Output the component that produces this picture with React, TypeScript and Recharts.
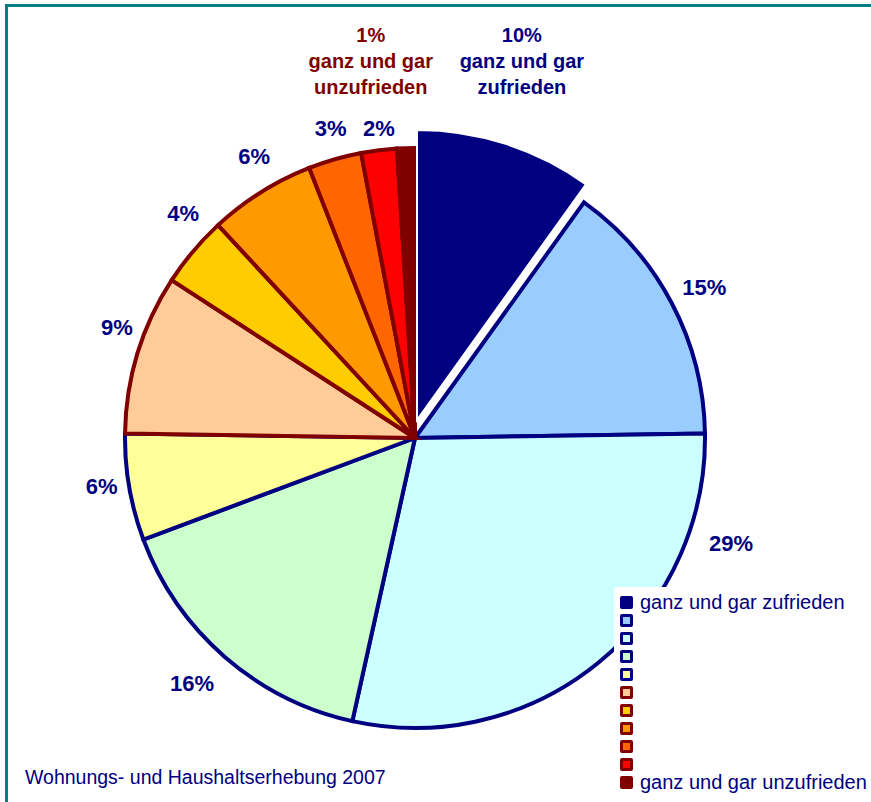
import React from 'react';
import { PieChart, Pie, Cell, Legend } from 'recharts';

// ---- data ----
const categories = [
  'ganz und gar zufrieden', '2', '3', '4', '5', '6', '7', '8', '9', '10', 'ganz und gar unzufrieden',
];
const shares = [10, 15, 29, 16, 6, 9, 4, 6, 3, 2, 1];
const legendLabels = [
  'ganz und gar zufrieden', '', '', '', '', '', '', '', '', '', 'ganz und gar unzufrieden',
];
const footerText = 'Wohnungs- und Haushaltserhebung 2007';

// ---- styles ----
const FILLS = ['#000080', '#99CCFF', '#CCFFFF', '#CCFFCC', '#FFFF99', '#FFCC99', '#FFCC00', '#FF9900', '#FF6600', '#FF0000', '#800000'];
const STROKES = ['#FFFFFF', '#000080', '#000080', '#000080', '#000080', '#800000', '#800000', '#800000', '#800000', '#800000', '#800000'];
const NAVY = '#000080';
const DARKRED = '#800000';
const FONT = '"Liberation Sans", Arial, Helvetica, sans-serif';

// label placement tweaks (clockwise angle shift in deg, gap beyond outer radius)
const LABEL_SHIFT = [-2, 0.2, -32.4, 1.2, 1, 3.4, 4, 2.3, 0.8, 0.5, -4.9];
const LABEL_GAP = [102, 36, 43, 42, 27, 28, 33, 34, 31, 22, 90];
const RAD = Math.PI / 180;

const data = categories.map((name, i) => ({ name, value: shares[i] }));

const renderLabel = (props: any) => {
  const { cx, cy, midAngle, outerRadius, index, value } = props;
  const cw = 90 - midAngle + LABEL_SHIFT[index];
  const r = outerRadius + LABEL_GAP[index];
  const x = cx + r * Math.sin(cw * RAD);
  const y = cy - r * Math.cos(cw * RAD);
  if (index === 0 || index === shares.length - 1) {
    const color = index === 0 ? NAVY : DARKRED;
    const words = categories[index].split(' ');
    const lines = [`${value}%`, words.slice(0, 3).join(' '), words.slice(3).join(' ')];
    return (
      <text key={`lbl-${index}`} x={x} y={y} textAnchor="middle" fill={color}
        style={{ fontFamily: FONT, fontWeight: 700, fontSize: 20 }}>
        {lines.map((ln, k) => (
          <tspan key={k} x={x} y={y + (k - 1) * 26} dominantBaseline="central">{ln}</tspan>
        ))}
      </text>
    );
  }
  return (
    <text key={`lbl-${index}`} x={x} y={y} textAnchor="middle" dominantBaseline="central" fill={NAVY}
      style={{ fontFamily: FONT, fontWeight: 700, fontSize: 22 }}>
      {`${value}%`}
    </text>
  );
};

const renderLegend = () => (
  <div style={{ paddingTop: 6, paddingLeft: 6 }}>
    {legendLabels.map((lab, i) => {
      const solid = i === 0 || i === legendLabels.length - 1;
      return (
        <div key={i} style={{ display: 'flex', alignItems: 'center', height: 18 }}>
          <div
            style={{
              width: 13, height: 13, boxSizing: 'border-box',
              background: FILLS[i],
              border: solid ? 'none' : `3px solid ${i < 5 ? NAVY : DARKRED}`,
              borderRadius: 2,
            }}
          />
          <span style={{ marginLeft: 7, fontFamily: FONT, fontSize: 20, color: NAVY, lineHeight: '18px', whiteSpace: 'nowrap' }}>
            {lab}
          </span>
        </div>
      );
    })}
  </div>
);

export default function App() {
  return (
    <div style={{ position: 'absolute', left: 0, top: 0, width: 871, height: 802, background: '#fff', overflow: 'hidden' }}>
      <div style={{ position: 'absolute', left: 5, top: 4, width: 900, height: 3, background: '#008080' }} />
      <div style={{ position: 'absolute', left: 5, top: 4, width: 3, height: 820, background: '#008080' }} />
      <PieChart width={871} height={802} margin={{ top: 0, right: 0, bottom: 0, left: 0 }}
        style={{ position: 'absolute', left: 0, top: 0 }}>
        <Pie
          data={data} dataKey="value" nameKey="name"
          cx={415} cy={438} outerRadius={290} startAngle={90} endAngle={-270}
          isAnimationActive={false} label={renderLabel} labelLine={false} strokeWidth={4}
        >
          {data.map((_, i) => (
            <Cell key={i} fill={i === 0 ? 'none' : FILLS[i]} stroke={i === 0 ? 'none' : STROKES[i]} strokeWidth={4} />
          ))}
        </Pie>
        <Pie
          data={data} dataKey="value" nameKey="name"
          cx={417} cy={420} outerRadius={290} startAngle={90} endAngle={-270}
          isAnimationActive={false} label={false} labelLine={false} legendType="none"
        >
          {data.map((_, i) => (
            <Cell key={i} fill={i === 0 ? FILLS[0] : 'none'} stroke={i === 0 ? STROKES[0] : 'none'} strokeWidth={2} />
          ))}
        </Pie>
        <Legend
          content={renderLegend}
          wrapperStyle={{ position: 'absolute', left: 614, top: 587, width: 257, height: 215, background: '#fff' }}
        />
      </PieChart>
      <div style={{ position: 'absolute', left: 25, top: 768, fontFamily: FONT, fontSize: 19.5, lineHeight: '19px', color: NAVY, whiteSpace: 'nowrap' }}>
        {footerText}
      </div>
    </div>
  );
}
